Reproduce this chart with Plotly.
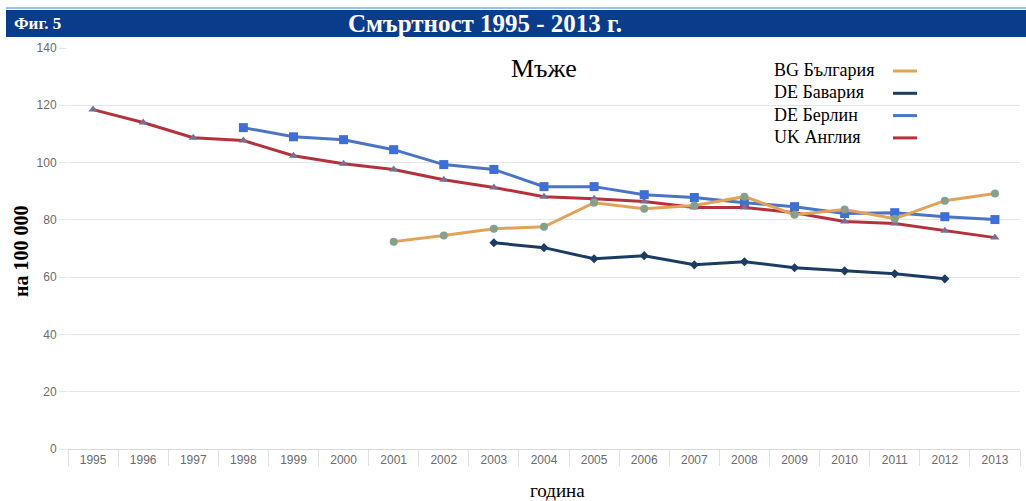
import plotly.graph_objects as go

years = [str(y) for y in range(1995, 2014)]

bg_years = [str(y) for y in range(2001, 2014)]
bg_values = [72.4, 74.5, 76.9, 77.6, 86.0, 83.9, 85.0, 88.1, 81.8, 83.6, 80.4, 86.7, 89.2]

bav_years = [str(y) for y in range(2003, 2013)]
bav_values = [72.0, 70.3, 66.4, 67.5, 64.3, 65.4, 63.3, 62.2, 61.2, 59.4]

ber_years = [str(y) for y in range(1998, 2014)]
ber_values = [112.2, 109.0, 108.0, 104.5, 99.3, 97.6, 91.6, 91.6, 88.8, 87.8, 86.0, 84.6, 82.2, 82.5, 81.1, 80.1]

uk_years = years
uk_values = [118.5, 114.0, 108.7, 107.7, 102.4, 99.6, 97.6, 94.0, 91.3, 88.1, 87.4, 86.4, 84.3, 84.3, 82.5, 79.4, 78.7, 76.2, 73.8]

names = ["BG България", "DE Бавария", "DE Берлин", "UK Англия"]
line_colors = ["#E2A258", "#1B3D63", "#4A74C4", "#B5323C"]
marker_colors = ["#86A08E", "#1B3D63", "#3D6FD6", "#7A6E93"]
symbols = ["circle", "diamond", "square", "triangle-up"]
sizes = [8, 7, 9, 8]

series = [(bg_years, bg_values), (bav_years, bav_values), (ber_years, ber_values), (uk_years, uk_values)]
order = [2, 3, 1, 0]  # draw order

W, H = 1026, 501
ml, mr, mt, mb = 68, 6, 48, 52
pw, ph = W - ml - mr, H - mt - mb

def px(x):
    return (x - ml) / pw

def py(y):
    return (H - mb - y) / ph

fig = go.Figure()
for i in order:
    xs, ys = series[i]
    fig.add_trace(go.Scatter(
        x=xs, y=ys, mode="lines+markers", name=names[i],
        line=dict(color=line_colors[i], width=3),
        marker=dict(symbol=symbols[i], size=sizes[i], color=marker_colors[i]),
        showlegend=False,
    ))

shapes = [
    dict(type="rect", xref="paper", yref="paper", x0=px(6), x1=px(1026), y0=py(37), y1=py(10),
         fillcolor="#0B3C8C", line=dict(width=0), layer="below"),
    dict(type="line", xref="paper", yref="paper", x0=px(6), x1=px(1026), y0=py(8), y1=py(8),
         line=dict(color="#9CC3E6", width=2)),
]
annotations = [
    dict(text="<b>Фиг. 5</b>", xref="paper", yref="paper", x=px(12), y=py(23), xanchor="left", yanchor="middle",
         showarrow=False, font=dict(family="Liberation Serif", size=17, color="white")),
    dict(text="<b>Смъртност 1995 - 2013 г.</b>", xref="paper", yref="paper", x=px(485), y=py(23),
         xanchor="center", yanchor="middle", showarrow=False,
         font=dict(family="Liberation Serif", size=25, color="white")),
    dict(text="Мъже", xref="paper", yref="paper", x=px(544), y=py(68), xanchor="center", yanchor="middle",
         showarrow=False, font=dict(family="Liberation Serif", size=26, color="black")),
    dict(text="<b>на 100 000</b>", xref="paper", yref="paper", x=px(21), y=py(251), xanchor="center",
         yanchor="middle", textangle=-90, showarrow=False,
         font=dict(family="Liberation Serif", size=20, color="black")),
    dict(text="година", xref="paper", yref="paper", x=px(557), y=py(490), xanchor="center", yanchor="middle",
         showarrow=False, font=dict(family="Liberation Serif", size=19, color="black")),
]
for k, nm in enumerate(names):
    yy = 70 + k * 22.3
    annotations.append(dict(text=nm, xref="paper", yref="paper", x=px(772), y=py(yy), xanchor="left",
                            yanchor="middle", showarrow=False,
                            font=dict(family="Liberation Serif", size=18, color="black")))
    shapes.append(dict(type="line", xref="paper", yref="paper", x0=px(893), x1=px(917), y0=py(yy + 1), y1=py(yy + 1),
                       line=dict(color=line_colors[k], width=3)))

fig.update_layout(
    width=W, height=H,
    margin=dict(l=ml, r=mr, t=mt, b=mb),
    paper_bgcolor="white", plot_bgcolor="white",
    shapes=shapes, annotations=annotations,
    xaxis=dict(type="category", categoryorder="array", categoryarray=years,
               range=[-0.5, len(years) - 0.5], autorange=False,
               tickson="boundaries", ticks="outside", ticklen=16, tickcolor="#E0E0E0",
               showline=True, linecolor="#D9D9D9", showgrid=False,
               tickfont=dict(family="Liberation Sans Narrow, Liberation Sans", size=12, color="#6B6B6B")),
    yaxis=dict(range=[0, 140], dtick=20, showgrid=True, gridcolor="#E6E6E6", zeroline=False,
               ticks="outside", ticklen=8, tickcolor="#E6E6E6",
               tickfont=dict(family="Liberation Sans Narrow, Liberation Sans", size=12, color="#6B6B6B")),
)

fig.write_html("out.html", config={"displayModeBar": False},
               post_script="document.body.style.margin='0';document.body.style.overflow='hidden';")
